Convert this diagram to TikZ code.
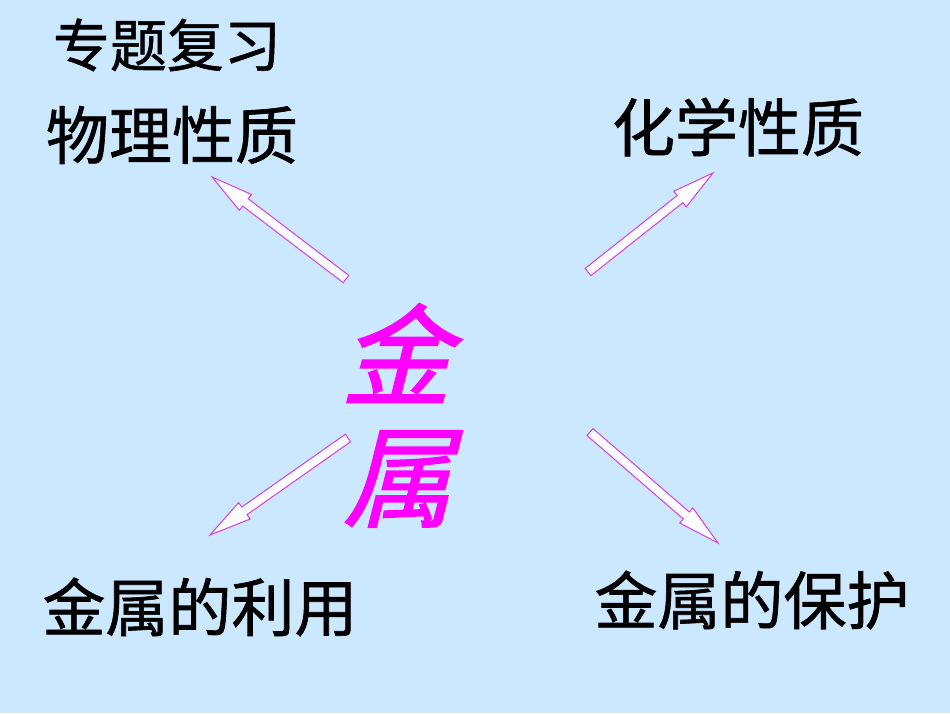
\documentclass[tikz,border=0pt]{standalone}
\usepackage{fontspec}
\setmainfont{Noto Sans CJK SC}
\newfontfamily\cjk[FakeBold=1]{Noto Sans CJK SC}
\newfontfamily\cjkslant[FakeSlant=0.25,FakeBold=1.5]{Noto Sans CJK SC}
\definecolor{bgblue}{RGB}{204,232,255}
\definecolor{mag}{RGB}{255,0,255}
\definecolor{arrowedge}{RGB}{214,60,230}
\tikzset{
  lbl/.style={inner sep=0pt, font=\cjk\fontsize{63}{63}\selectfont, text=black},
  hollow/.style={draw=arrowedge, fill=white, line width=1pt, line join=miter}
}
\newcommand\hollowarr[4]{%
  \begin{scope}[shift={(#1,#2)}, rotate=#3]
    \draw[hollow] ({-#4/2},-4.6) -- ({#4/2-42},-4.6) -- ({#4/2-42},-10) -- ({#4/2},0)
      -- ({#4/2-42},10) -- ({#4/2-42},4.6) -- ({-#4/2},4.6) -- cycle;
  \end{scope}}
\begin{document}
\begin{tikzpicture}[x=1pt,y=1pt]
  \fill[bgblue] (0,0) rectangle (950,713);
  \useasboundingbox (0,0) rectangle (950,713);
  \node[lbl, font=\cjk\fontsize{57}{57}\selectfont] (review) at (167,668) {专题复习};
  \node[lbl] (phys) at (172,578) {物理性质};
  \node[lbl] (chem) at (738,586) {化学性质};
  \node[lbl] (use) at (200,106) {金属的利用};
  \node[lbl] (prot) at (752,113) {金属的保护};
  \node[inner sep=0pt, text=mag, font=\cjkslant\fontsize{110}{110}\selectfont] (jin) at (396,360) {金};
  \node[inner sep=0pt, text=mag, font=\cjkslant\fontsize{110}{110}\selectfont] (shu) at (398,234) {属};
  \hollowarr{279}{485}{142.7}{168.4}
  \hollowarr{650.5}{490.5}{38.4}{159.5}
  \hollowarr{279}{226.5}{215.1}{168.7}
  \hollowarr{654}{225.5}{-40.9}{169.4}
\end{tikzpicture}
\end{document}
